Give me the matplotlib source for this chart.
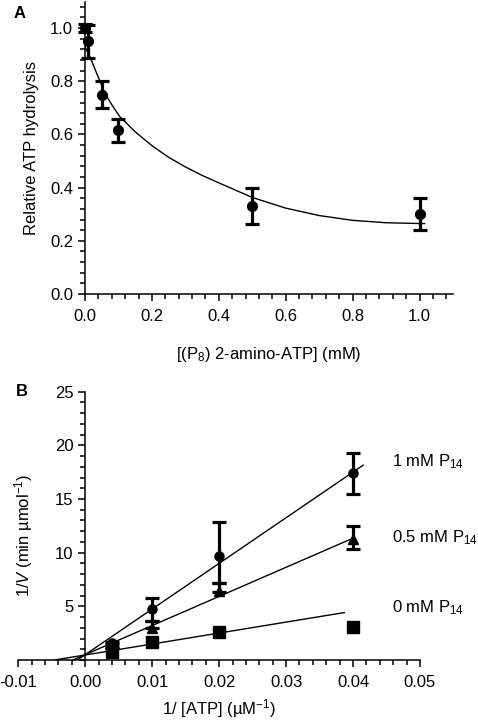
import numpy as np
import matplotlib
matplotlib.use("Agg")
import matplotlib.pyplot as plt
from matplotlib.ticker import MultipleLocator, FixedLocator

plt.rcParams['font.family'] = ['Liberation Sans', 'DejaVu Sans']
plt.rcParams['mathtext.fontset'] = 'custom'
plt.rcParams['mathtext.rm'] = 'Liberation Sans'
plt.rcParams['mathtext.it'] = 'Liberation Sans:italic'
plt.rcParams['font.size'] = 12

# ---- panel A data
conc_a = [0.0, 0.01, 0.05, 0.1, 0.5, 1.0]
rel_a = [1.0, 0.95, 0.75, 0.615, 0.33, 0.30]
err_a = [0.015, 0.063, 0.05, 0.045, 0.067, 0.06]
# fitted curve
curve_x = [0.0, 0.015, 0.03, 0.06, 0.08, 0.104, 0.15, 0.2, 0.25, 0.3, 0.35,
           0.4, 0.5, 0.6, 0.7, 0.8, 0.9, 1.0, 1.015]
curve_y = [0.93, 0.892, 0.845, 0.754, 0.712, 0.667, 0.61, 0.558, 0.514, 0.478,
           0.446, 0.418, 0.363, 0.323, 0.295, 0.277, 0.268, 0.265, 0.265]

# ---- panel B data
inv_atp = [0.004, 0.01, 0.02, 0.04]
inv_v_1mm = [1.55, 4.72, 9.7, 17.4]
err_1mm_lo = [0.1, 1.06, 2.5, 1.9]
err_1mm_hi = [0.1, 1.05, 3.2, 1.85]
inv_v_05mm = [1.1, 2.95, 6.4, 11.25]
err_05mm_lo = [0.0, 0.0, 0.1, 0.9]
err_05mm_hi = [0.0, 0.7, 0.8, 1.25]
inv_v_0mm = [0.7, 1.7, 2.65, 3.1]
# regression lines: start (x-intercept) and end points
fit_x0 = [-0.00117, -0.00184, -0.0046]
fit_x1 = [0.0415, 0.0398, 0.0387]
fit_y1 = [18.15, 11.3, 4.42]
series_labels = ['1 mM P$_{14}$', '0.5 mM P$_{14}$', '0 mM P$_{14}$']
label_y = [18.5, 11.4, 4.9]

W, H = 478, 722
fig = plt.figure(figsize=(W / 100, H / 100), dpi=100)

tick_kw = dict(direction='out', width=1.1, color='black')
eb_kw = dict(color='black', elinewidth=2.3, capsize=4.8, capthick=2.3)

# ================= panel A
axA = fig.add_axes([85 / W, 1 - 294 / H, (453 - 85) / W, (294 - 1.5) / H])
axA.plot(curve_x, curve_y, color='black', lw=1.0)
axA.errorbar(conc_a, rel_a, yerr=err_a, fmt='o', ms=7, clip_on=False, **eb_kw)
axA.set_xlim(0, 1.1)
axA.set_ylim(0, 1.1)
axA.spines['top'].set_visible(False)
axA.spines['right'].set_visible(False)
for s in ['left', 'bottom']:
    axA.spines[s].set_linewidth(1.1)
axA.xaxis.set_major_locator(FixedLocator([0, 0.2, 0.4, 0.6, 0.8, 1.0]))
axA.xaxis.set_minor_locator(MultipleLocator(0.04))
axA.yaxis.set_major_locator(FixedLocator([0, 0.2, 0.4, 0.6, 0.8, 1.0]))
axA.yaxis.set_minor_locator(MultipleLocator(0.04))
axA.set_xticklabels(['0.0', '0.2', '0.4', '0.6', '0.8', '1.0'])
axA.set_yticklabels(['0.0', '0.2', '0.4', '0.6', '0.8', '1.0'])
axA.tick_params(which='major', length=5, **tick_kw)
axA.tick_params(which='minor', length=3.3, **tick_kw)
axA.tick_params(axis='x', pad=6)
axA.set_xlabel('[(P$_8$) 2-amino-ATP] (mM)', labelpad=15)
axA.set_ylabel('Relative ATP hydrolysis', labelpad=8)
fig.text(20 / W, 1 - 13 / H, 'A', fontsize=12, fontweight='bold',
         ha='center', va='center')

# ================= panel B
axB = fig.add_axes([18.3 / W, 1 - 660 / H, (420 - 18.3) / W, (660 - 391.7) / H])
for x0, x1, y1 in zip(fit_x0, fit_x1, fit_y1):
    axB.plot([x0, x1], [0, y1], color='black', lw=1.0)
axB.errorbar(inv_atp, inv_v_1mm, yerr=[err_1mm_lo, err_1mm_hi], fmt='o',
             ms=6.5, **eb_kw)
axB.errorbar(inv_atp, inv_v_05mm, yerr=[err_05mm_lo, err_05mm_hi], fmt='^',
             ms=7.5, **eb_kw)
axB.plot(inv_atp, inv_v_0mm, 's', color='black', ms=8)
for lab, ly in zip(series_labels, label_y):
    axB.text(0.0458, ly, lab, ha='left', va='center', clip_on=False)

axB.set_xlim(-0.01, 0.05)
axB.set_ylim(0, 25)
axB.spines['top'].set_visible(False)
axB.spines['right'].set_visible(False)
axB.spines['left'].set_position(('data', 0))
for s in ['left', 'bottom']:
    axB.spines[s].set_linewidth(1.1)
xt = [-0.01, 0.0, 0.01, 0.02, 0.03, 0.04, 0.05]
axB.xaxis.set_major_locator(FixedLocator(xt))
axB.set_xticklabels(['-0.01', '0.00', '0.01', '0.02', '0.03', '0.04', '0.05'])
axB.xaxis.set_minor_locator(MultipleLocator(0.002))
axB.yaxis.set_major_locator(FixedLocator([5, 10, 15, 20, 25]))
axB.yaxis.set_minor_locator(MultipleLocator(1))
axB.tick_params(which='major', length=5, **tick_kw)
axB.tick_params(which='minor', length=3.3, **tick_kw)
axB.tick_params(axis='x', pad=6)
axB.set_xlabel('1/ [ATP] (\u00b5M$^{-1}$)', labelpad=5)
axB.set_ylabel('1/$\\it{V}$ (min \u00b5mol$^{-1}$)')
axB.yaxis.set_label_coords(0.042, 0.466)
fig.text(22 / W, 1 - 392 / H, 'B', fontsize=12, fontweight='bold',
         ha='center', va='center')

fig.savefig('out.png', dpi=100)
